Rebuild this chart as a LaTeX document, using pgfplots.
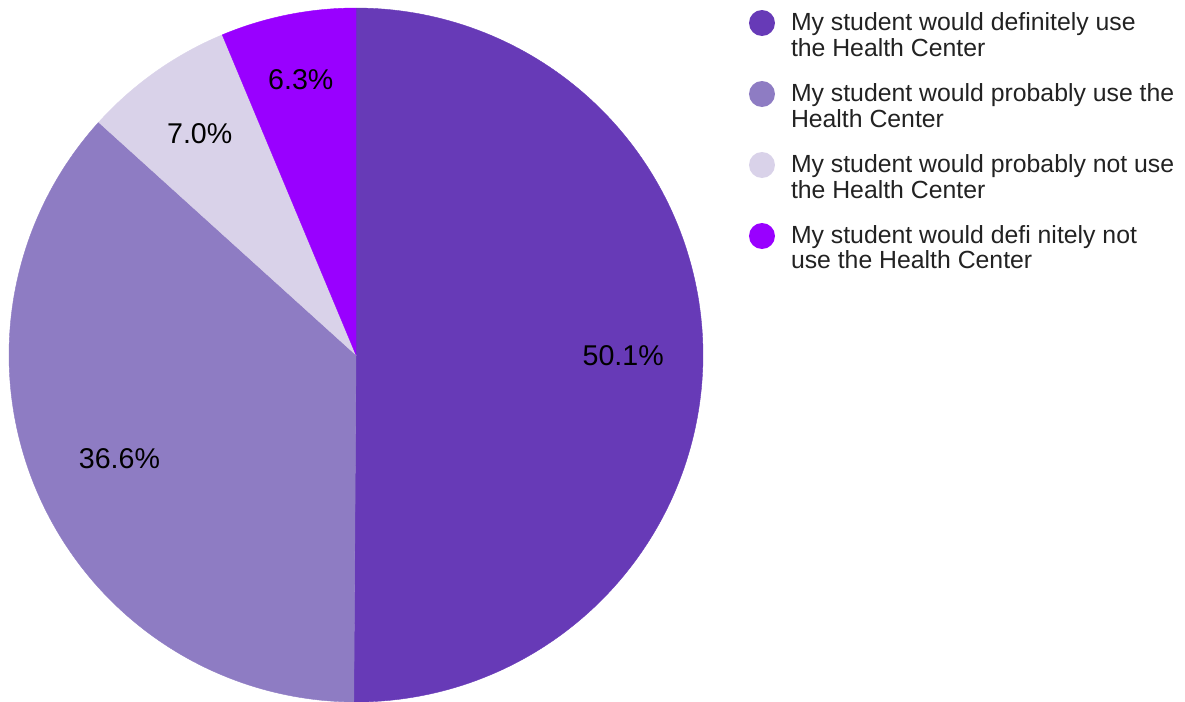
\documentclass[border=0pt]{standalone}
\usepackage{pgfplots}
\pgfplotsset{compat=1.18}
\usepackage{pgfplotstable}
\usepackage{fontspec}
\setmainfont{Liberation Sans}
\definecolor{c1}{HTML}{673AB7}
\definecolor{c2}{HTML}{8E7CC3}
\definecolor{c3}{HTML}{D9D2E9}
\definecolor{c4}{HTML}{9900FF}
\definecolor{txt}{HTML}{222222}

\pgfplotstableread{
value r
50.1 0.77
36.6 0.745
7.0 0.78
6.3 0.81
}\piedata

\begin{document}
\begin{tikzpicture}
\path[use as bounding box] (0,0) rectangle (592.5pt,351pt);
\pgfplotstablegetelem{0}{value}\of\piedata \let\vA\pgfplotsretval
\pgfplotstablegetelem{1}{value}\of\piedata \let\vB\pgfplotsretval
\pgfplotstablegetelem{2}{value}\of\piedata \let\vC\pgfplotsretval
\pgfplotstablegetelem{3}{value}\of\piedata \let\vD\pgfplotsretval
\pgfplotstablegetelem{0}{r}\of\piedata \let\rA\pgfplotsretval
\pgfplotstablegetelem{1}{r}\of\piedata \let\rB\pgfplotsretval
\pgfplotstablegetelem{2}{r}\of\piedata \let\rC\pgfplotsretval
\pgfplotstablegetelem{3}{r}\of\piedata \let\rD\pgfplotsretval
\pgfmathsetmacro\tot{\vA+\vB+\vC+\vD}
\pgfmathsetmacro\aA{90}
\pgfmathsetmacro\aB{\aA-3.6*(\vA/\tot)*100}
\pgfmathsetmacro\aC{\aB-3.6*(\vB/\tot)*100}
\pgfmathsetmacro\aD{\aC-3.6*(\vC/\tot)*100}
\pgfmathsetmacro\aE{\aD-3.6*(\vD/\tot)*100}
\pgfmathsetmacro\mA{(\aA+\aB)/2}
\pgfmathsetmacro\mB{(\aB+\aC)/2}
\pgfmathsetmacro\mC{(\aC+\aD)/2}
\pgfmathsetmacro\mD{(\aD+\aE)/2}
\begin{axis}[at={(4.5pt,0pt)}, anchor=south west,
  width=347pt, height=347pt, scale only axis,
  xmin=-1, xmax=1, ymin=-1, ymax=1, hide axis, clip=false,
  legend cell align=left,
  legend image code/.code={\fill[#1, draw=none] (6.5pt,3.5pt) circle[radius=6.5pt];},
  legend style={draw=none, fill=none, at={(axis description cs:1.06628,1)},
    anchor=north west, inner sep=0pt, outer sep=0pt, row sep=-1.5pt, column sep=6pt,
    font=\fontsize{12.4}{12.5}\selectfont, text=txt,
    cells={anchor=base west, inner sep=0pt, text height=9pt, text depth=3.5pt}},
]
\addplot[forget plot, fill=c1, draw=c1, line width=0.2pt, domain=\aB:\aA, samples=150, variable=\t] ({cos(\t)},{sin(\t)}) -- (axis cs:0,0) -- cycle;
\addplot[forget plot, fill=c2, draw=c2, line width=0.2pt, domain=\aC:\aB, samples=120, variable=\t] ({cos(\t)},{sin(\t)}) -- (axis cs:0,0) -- cycle;
\addplot[forget plot, fill=c3, draw=c3, line width=0.2pt, domain=\aD:\aC, samples=40, variable=\t] ({cos(\t)},{sin(\t)}) -- (axis cs:0,0) -- cycle;
\addplot[forget plot, fill=c4, draw=c4, line width=0.2pt, domain=\aE:\aD, samples=40, variable=\t] ({cos(\t)},{sin(\t)}) -- (axis cs:0,0) -- cycle;

\addlegendimage{fill=c1}\addlegendentry{My student would definitely use}
\addlegendimage{empty legend}\addlegendentry[text depth=11pt]{the Health Center}
\addlegendimage{fill=c2}\addlegendentry{My student would probably use the}
\addlegendimage{empty legend}\addlegendentry[text depth=11pt]{Health Center}
\addlegendimage{fill=c3}\addlegendentry{My student would probably not use}
\addlegendimage{empty legend}\addlegendentry[text depth=11pt]{the Health Center}
\addlegendimage{fill=c4}\addlegendentry{My student would defi nitely not}
\addlegendimage{empty legend}\addlegendentry[text depth=11pt]{use the Health Center}

\node[font=\fontsize{14.3}{14.3}\selectfont] at (axis cs:{\rA*cos(\mA)},{\rA*sin(\mA)}) {\pgfmathprintnumber[fixed,fixed zerofill,precision=1,assume math mode=true]{\vA}\%};
\node[font=\fontsize{14.3}{14.3}\selectfont] at (axis cs:{\rB*cos(\mB)},{\rB*sin(\mB)}) {\pgfmathprintnumber[fixed,fixed zerofill,precision=1,assume math mode=true]{\vB}\%};
\node[font=\fontsize{14.3}{14.3}\selectfont] at (axis cs:{\rC*cos(\mC)},{\rC*sin(\mC)}) {\pgfmathprintnumber[fixed,fixed zerofill,precision=1,assume math mode=true]{\vC}\%};
\node[font=\fontsize{14.3}{14.3}\selectfont] at (axis cs:{\rD*cos(\mD)},{\rD*sin(\mD)}) {\pgfmathprintnumber[fixed,fixed zerofill,precision=1,assume math mode=true]{\vD}\%};
\end{axis}
\end{tikzpicture}
\end{document}
